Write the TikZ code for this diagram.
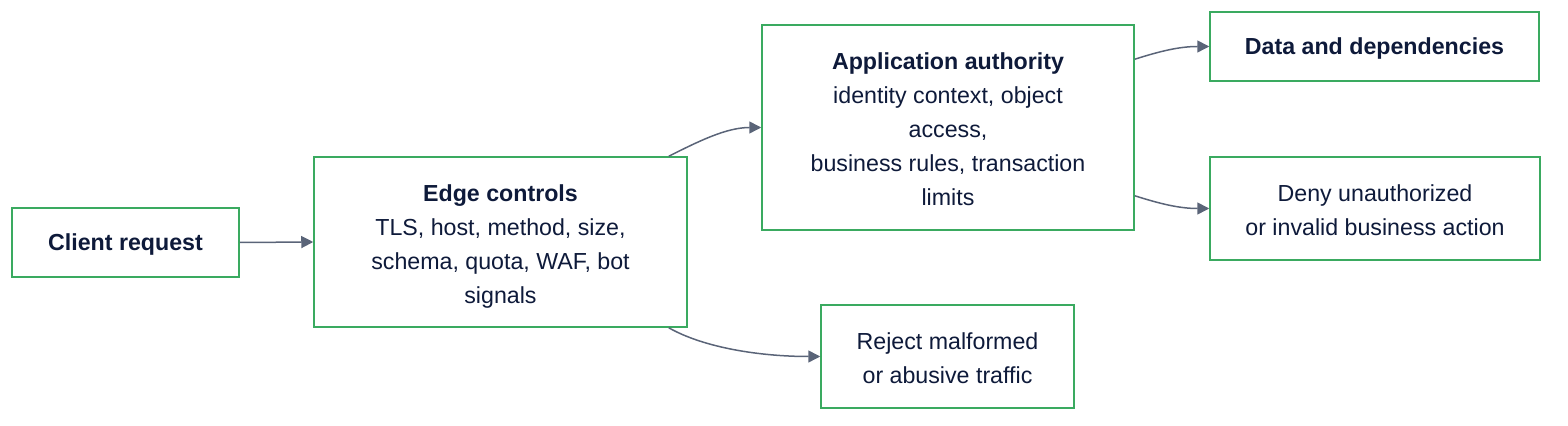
\documentclass[tikz,border=0pt]{standalone}
\usepackage{fontspec}
\setmainfont{Liberation Sans}
\usetikzlibrary{arrows.meta}
\definecolor{boxgreen}{RGB}{58,170,96}
\definecolor{txt}{RGB}{14,26,58}
\definecolor{arr}{RGB}{90,100,120}
\begin{document}
\begin{tikzpicture}[x=0.5pt,y=-0.5pt,
  box/.style={draw=boxgreen,line width=0.75pt,fill=white,rectangle,inner sep=0pt},
  lbl/.style={align=center,text=txt,inner sep=0pt,font=\fontsize{11.6pt}{17pt}\selectfont},
  conn/.style={draw=arr,line width=0.75pt,-{Triangle[length=6pt,width=6pt]}}]
\useasboundingbox (0,0) rectangle (1568,426);
\node[box,minimum width=113.5pt,minimum height=34.5pt,
  label={[lbl,yshift=-1.25pt]center:{\textbf{Client request}}}] (client) at (125.5,242.5) {};
\node[box,minimum width=186.5pt,minimum height=85pt,
  label={[lbl,yshift=-2.5pt]center:{\textbf{Edge controls}\\TLS, host, method, size,\\schema, quota, WAF, bot\\signals}}] (edge) at (500.5,242) {};
\node[box,minimum width=186pt,minimum height=102.5pt,
  label={[lbl,yshift=-1pt]center:{\textbf{Application authority}\\identity context, object\\access,\\business rules, transaction\\limits}}] (app) at (948,127.5) {};
\node[box,minimum width=164.5pt,minimum height=34.5pt,
  label={[lbl,yshift=-1.25pt]center:{\textbf{Data and dependencies}}}] (data) at (1374.5,46.5) {};
\node[box,minimum width=165pt,minimum height=51.5pt,
  label={[lbl,yshift=-1pt]center:{Deny unauthorized\\or invalid business action}}] (deny) at (1375,208.5) {};
\node[box,minimum width=126.5pt,minimum height=51.5pt,
  label={[lbl,yshift=-1pt]center:{Reject malformed\\or abusive traffic}}] (reject) at (947.5,356.5) {};
\draw[conn] (client.east) -- (edge.west);
\draw[conn] ([xshift=-9.5pt]edge.north east) .. controls +(30,-15) and +(-35,0) .. (app.west);
\draw[conn] ([xshift=-9.5pt]edge.south east) .. controls +(35,20) and +(-60,0) .. (reject.west);
\draw[conn] ([yshift=-17.5pt]app.north east) .. controls +(25,-8) and +(-30,0) .. (data.west);
\draw[conn] ([yshift=17.5pt]app.south east) .. controls +(25,8) and +(-30,0) .. (deny.west);
\end{tikzpicture}
\end{document}
